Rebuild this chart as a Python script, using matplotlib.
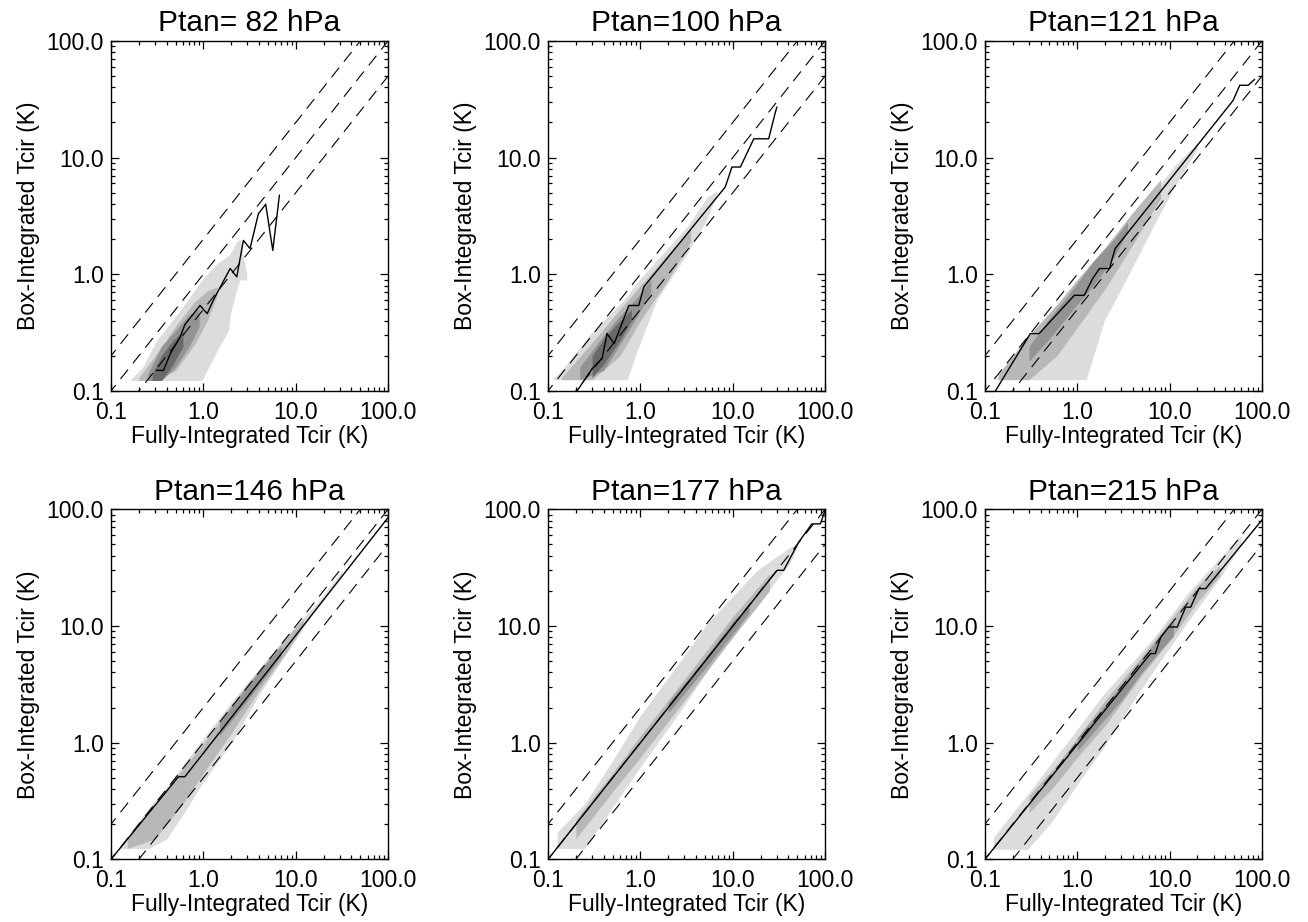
import matplotlib
matplotlib.use('Agg')
import matplotlib.pyplot as plt
from matplotlib.ticker import FixedLocator, FixedFormatter, LogLocator, NullFormatter

plt.rcParams['font.family'] = ['Liberation Sans', 'DejaVu Sans']

titles = ['Ptan= 82 hPa', 'Ptan=100 hPa', 'Ptan=121 hPa',
          'Ptan=146 hPa', 'Ptan=177 hPa', 'Ptan=215 hPa']
tick_vals = [0.1, 1.0, 10.0, 100.0]
tick_labels = ['0.1', '1.0', '10.0', '100.0']
ref_factors = [2.0, 1.0, 0.5]   # dashed reference lines y = f * x
shade_colors = ['#dcdcdc', '#b8b8b8', '#939393', '#6a6a6a']

# median lines (x, y)
m82_x = [0.31, 0.37, 0.44, 0.56, 0.63, 0.92, 1.10, 1.28, 1.95, 2.3, 2.71, 3.2, 3.94, 4.73, 5.64, 6.65]
m82_y = [0.15, 0.15, 0.21, 0.29, 0.37, 0.54, 0.46, 0.60, 1.12, 0.95, 1.95, 1.66, 3.3, 3.98, 1.6, 4.75]
m100_x = [0.206, 0.30, 0.385, 0.435, 0.52, 0.75, 0.96, 1.09, 8.3, 9.8, 12.1, 16.9, 24.5, 29, 30]
m100_y = [0.1, 0.155, 0.19, 0.31, 0.255, 0.54, 0.54, 0.78, 5.6, 8.3, 8.3, 14.5, 14.5, 24.6, 27]
m121_x = [0.13, 0.31, 0.386, 0.93, 1.19, 1.47, 1.74, 2.23, 2.57, 48.7, 57.5, 71, 83]
m121_y = [0.1, 0.31, 0.31, 0.66, 0.66, 0.92, 1.12, 1.12, 1.66, 30.9, 41.7, 41.7, 46.7]
m146_x = [0.1, 0.536, 0.63, 100]
m146_y = [0.1, 0.51, 0.51, 85]
m177_x = [0.1, 30.2, 35.6, 51.9, 72, 89, 100]
m177_y = [0.1, 30, 30, 52.5, 75, 75, 98]
m215_x = [0.1, 6.2, 7.0, 8.0, 9.8, 12.1, 14.9, 16.9, 20.8, 24.6, 100]
m215_y = [0.1, 5.8, 5.8, 8.0, 9.8, 9.8, 14.5, 14.5, 20.9, 20.9, 81]

# shaded density bands, light -> dark: (x, lower, upper)
s82 = [
    ([0.16, 0.22, 0.31, 0.56, 0.96, 1.0, 1.4, 1.87, 1.95, 2.3, 2.5, 2.95],
     [0.123, 0.123, 0.123, 0.123, 0.123, 0.13, 0.22, 0.33, 0.45, 0.75, 0.9, 0.89],
     [0.123, 0.16, 0.27, 0.49, 0.89, 0.93, 1.23, 1.45, 1.5, 1.9, 2.0, 1.0]),
    ([0.2, 0.3, 0.5, 0.8, 1.1, 1.4],
     [0.123, 0.123, 0.15, 0.25, 0.4, 0.65],
     [0.13, 0.2, 0.36, 0.58, 0.72, 0.78]),
    ([0.25, 0.35, 0.5, 0.7, 0.9],
     [0.123, 0.123, 0.16, 0.24, 0.36],
     [0.14, 0.24, 0.33, 0.45, 0.5]),
    ([0.28, 0.35, 0.45, 0.6],
     [0.123, 0.123, 0.16, 0.24],
     [0.14, 0.2, 0.26, 0.33]),
]
s100 = [
    ([0.11, 0.15, 0.29, 0.66, 0.72, 0.92, 1.5, 3.2, 5.3, 6.8],
     [0.125, 0.125, 0.125, 0.125, 0.125, 0.22, 0.6, 1.5, 3.0, 5.0],
     [0.125, 0.16, 0.31, 0.6, 0.65, 0.85, 1.32, 2.55, 4.6, 5.2]),
    ([0.14, 0.3, 0.6, 1.0, 2.0, 3.5],
     [0.125, 0.125, 0.2, 0.4, 0.9, 1.9],
     [0.13, 0.26, 0.5, 0.8, 1.5, 2.4]),
    ([0.22, 0.4, 0.6, 0.9, 1.3],
     [0.125, 0.15, 0.25, 0.42, 0.7],
     [0.16, 0.3, 0.44, 0.62, 0.9]),
    ([0.3, 0.4, 0.6, 0.8],
     [0.13, 0.17, 0.27, 0.4],
     [0.2, 0.28, 0.4, 0.5]),
]
s121 = [
    ([0.13, 0.22, 0.52, 1.25, 1.96, 3.5, 7.5, 11.3, 20],
     [0.125, 0.125, 0.125, 0.125, 0.40, 0.95, 3.1, 5.6, 12],
     [0.125, 0.22, 0.43, 0.92, 1.5, 2.9, 5.6, 8.5, 13.5]),
    ([0.14, 0.3, 0.6, 1.0, 2.0, 4.0, 8.0],
     [0.125, 0.125, 0.2, 0.35, 0.75, 1.8, 4.5],
     [0.14, 0.3, 0.55, 0.9, 1.7, 3.4, 6.5]),
    ([0.3, 0.5, 0.9, 1.5, 2.5, 3.5],
     [0.18, 0.28, 0.5, 0.8, 1.4, 2.3],
     [0.24, 0.42, 0.75, 1.3, 2.0, 2.8]),
]
s146 = [
    ([0.125, 0.26, 0.4, 0.66, 0.92, 2.1, 4.1, 7.3, 11.1, 17, 32],
     [0.124, 0.124, 0.15, 0.27, 0.42, 1.05, 2.66, 5.3, 8.7, 14.2, 28],
     [0.13, 0.28, 0.42, 0.71, 1.0, 2.33, 4.4, 7.6, 11, 15.8, 30]),
    ([0.15, 0.3, 0.6, 1.0, 2.0, 4.0, 8.0, 12],
     [0.124, 0.15, 0.3, 0.55, 1.2, 2.8, 6, 10],
     [0.15, 0.3, 0.6, 0.98, 2.1, 4.2, 8, 11.5]),
    ([1.5, 3, 5, 7],
     [1.15, 2.3, 3.9, 5.6],
     [1.5, 3.1, 5.0, 6.8]),
]
s177 = [
    ([0.125, 0.25, 0.5, 1.0, 2.3, 5.3, 8.0, 18.4, 27.8, 42, 50],
     [0.124, 0.124, 0.28, 0.62, 1.55, 4.1, 6.6, 15.2, 23, 35, 48],
     [0.17, 0.30, 0.70, 1.71, 4.2, 10.5, 14.9, 30, 37.8, 47.5, 50]),
    ([0.2, 0.5, 1, 3, 10, 25],
     [0.15, 0.38, 0.75, 2.3, 8, 20],
     [0.22, 0.55, 1.15, 3.5, 12, 28]),
    ([2, 5, 10, 15],
     [1.8, 4.3, 8.5, 13],
     [2.2, 5.3, 11, 15]),
]
s215 = [
    ([0.123, 0.24, 0.29, 0.53, 1.0, 1.93, 4.5, 6.8, 15.6, 35.8, 59],
     [0.122, 0.122, 0.122, 0.21, 0.44, 0.91, 2.6, 4.2, 10.8, 26.4, 50],
     [0.153, 0.30, 0.36, 0.68, 1.3, 2.6, 5.5, 8.0, 19, 39, 60]),
    ([0.3, 0.6, 1, 2, 5, 10, 20, 35],
     [0.25, 0.45, 0.75, 1.4, 3.8, 7.5, 16, 27],
     [0.35, 0.65, 1.1, 2.3, 5.5, 11, 22, 33]),
    ([1, 2, 3, 5, 8, 11],
     [0.85, 1.6, 2.3, 4.0, 6.2, 8.2],
     [1.1, 2.1, 3.1, 5.2, 8.2, 11]),
]

medians = [(m82_x, m82_y), (m100_x, m100_y), (m121_x, m121_y),
           (m146_x, m146_y), (m177_x, m177_y), (m215_x, m215_y)]
shades = [s82, s100, s121, s146, s177, s215]

fig = plt.figure(figsize=(13.08, 9.22), dpi=100)
lefts = [0.0849, 0.419, 0.753]
bottoms = [0.576, 0.068]
w, h = 0.2118, 0.3796

for i in range(6):
    ax = fig.add_axes([lefts[i % 3], bottoms[i // 3], w, h])
    ax.set_xscale('log')
    ax.set_yscale('log')

    for k, (sx, lo, hi) in enumerate(shades[i]):
        ax.fill_between(sx, lo, hi, color=shade_colors[k], lw=0, zorder=1)

    for f in ref_factors:
        ax.plot([0.05, 200], [0.05 * f, 200 * f], color='black', lw=0.8,
                linestyle=(0, (11, 7)), zorder=2)

    mx, my = medians[i]
    ax.plot(mx, my, color='black', lw=1.0, zorder=3)

    ax.set_xlim(0.1, 100)
    ax.set_ylim(0.1, 100)
    for axis in (ax.xaxis, ax.yaxis):
        axis.set_major_locator(FixedLocator(tick_vals))
        axis.set_major_formatter(FixedFormatter(tick_labels))
        axis.set_minor_locator(LogLocator(base=10, subs=range(2, 10)))
        axis.set_minor_formatter(NullFormatter())
    ax.tick_params(which='both', direction='in', top=True, right=True, width=0.9)
    ax.tick_params(which='major', length=5.5, labelsize=16.5)
    ax.tick_params(axis='x', which='major', pad=7)
    ax.tick_params(axis='y', which='major', pad=5)
    ax.tick_params(which='minor', length=2.7)
    for sp in ax.spines.values():
        sp.set_linewidth(1.0)

    ax.set_title(titles[i], fontsize=21.5, pad=7)
    ax.set_xlabel('Fully-Integrated Tcir (K)', fontsize=16.5, labelpad=1)
    ax.set_ylabel('Box-Integrated Tcir (K)', fontsize=16.5, labelpad=5)

plt.savefig('out.png', dpi=100)
